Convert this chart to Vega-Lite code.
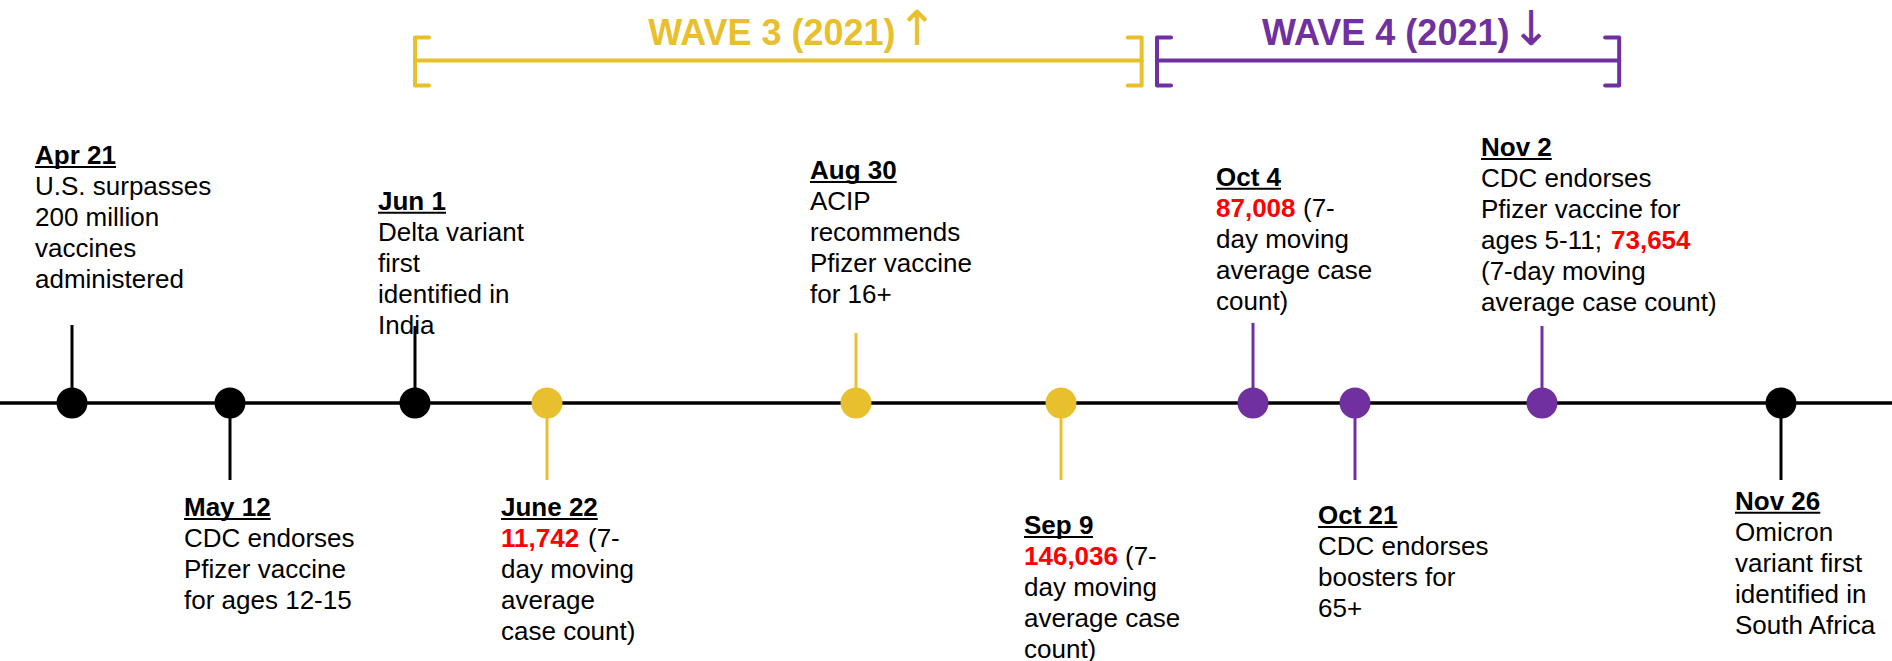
{
  "$schema": "https://vega.github.io/schema/vega-lite/v6.json",
  "width": 1892,
  "height": 661,
  "padding": 0,
  "autosize": {"type": "none"},
  "background": "white",
  "config": {"view": {"stroke": null}, "font": "Liberation Sans"},
  "datasets": {
    "events": [
      {"date": "2021-04-21T00:00Z", "heading": "Apr 21", "group": "other", "level": 8.02, "stem": 2.53, "body": ["U.S. surpasses", "200 million", "vaccines", "administered"]},
      {"date": "2021-05-12T00:00Z", "heading": "May 12", "group": "other", "level": -3.41, "stem": -2.5, "body": ["CDC endorses", "Pfizer vaccine", "for ages 12-15"]},
      {"date": "2021-06-01T00:00Z", "heading": "Jun 1", "group": "other", "level": 6.53, "stem": 2.5, "body": ["Delta variant", "first", "identified in", "India"]},
      {"date": "2021-06-22T00:00Z", "heading": "June 22", "group": "wave3", "level": -3.41, "stem": -2.5, "body": ["", "day moving", "average", "case count)"], "num": "11,742", "suffix": "(7-"},
      {"date": "2021-08-30T00:00Z", "heading": "Aug 30", "group": "wave3", "level": 7.53, "stem": 2.27, "body": ["ACIP", "recommends", "Pfizer vaccine", "for 16+"]},
      {"date": "2021-09-09T00:00Z", "heading": "Sep 9", "group": "wave3", "level": -3.99, "stem": -2.5, "body": ["", "day moving", "average case", "count)"], "num": "146,036", "suffix": "(7-"},
      {"date": "2021-10-04T00:00Z", "heading": "Oct 4", "group": "wave4", "level": 7.31, "stem": 2.6, "body": ["", "day moving", "average case", "count)"], "num": "87,008", "suffix": "(7-"},
      {"date": "2021-10-21T00:00Z", "heading": "Oct 21", "group": "wave4", "level": -3.67, "stem": -2.5, "body": ["CDC endorses", "boosters for", "65+"]},
      {"date": "2021-11-02T00:00Z", "heading": "Nov 2", "group": "wave4", "level": 8.28, "stem": 2.5, "body": ["CDC endorses", "Pfizer vaccine for", "ages 5-11;", "(7-day moving", "average case count)"], "num": "73,654"},
      {"date": "2021-11-26T00:00Z", "heading": "Nov 26", "group": "other", "level": -3.21, "stem": -2.5, "body": ["Omicron", "variant first", "identified in", "South Africa"]}
    ],
    "waves": [
      {"wave": "WAVE 3 (2021)", "arrow": "↑", "group": "wave3", "start": "2021-06-01T00:00Z", "end": "2021-09-19T12:00Z", "title_at": "2021-07-14T14:00Z"},
      {"wave": "WAVE 4 (2021)", "arrow": "↓", "group": "wave4", "start": "2021-09-21T12:00Z", "end": "2021-11-09T18:00Z", "title_at": "2021-10-05T12:00Z"}
    ]
  },
  "layer": [
    {
      "data": {"values": [{}]},
      "mark": {"type": "rule", "color": "#000000", "strokeWidth": 3.5},
      "encoding": {
        "y": {"datum": 0, "type": "quantitative", "axis": null, "scale": {"domain": [-8.377, 13.084], "nice": false, "zero": false}}
      }
    },
    {
      "data": {"name": "events", "format": {"parse": {"date": "date"}}},
      "mark": {"type": "rule", "strokeWidth": 3},
      "encoding": {
        "x": {"field": "date", "type": "quantitative", "axis": null, "scale": {"type": "linear", "nice": false, "zero": false, "domain": [1618963200000, 1620777600000, 1622505600000, 1624320000000, 1630281600000, 1631145600000, 1633305600000, 1634774400000, 1635811200000, 1637884800000], "range": [72, 230, 415, 547, 856, 1061, 1253, 1355, 1542, 1781]}},
        "y": {"field": "stem", "type": "quantitative", "axis": null, "scale": {"domain": [-8.377, 13.084], "nice": false, "zero": false}},
        "y2": {"datum": 0},
        "color": {"field": "group", "type": "nominal", "legend": null, "scale": {"domain": ["other", "wave3", "wave4"], "range": ["#000000", "#E8C02E", "#7030A0"]}}
      }
    },
    {
      "data": {"name": "waves", "format": {"parse": {"start": "date", "end": "date", "title_at": "date"}}},
      "layer": [
        {"mark": {"type": "rule", "strokeWidth": 4, "strokeCap": "round"},
         "encoding": {"x": {"field": "start", "type": "quantitative", "axis": null, "scale": {"type": "linear", "nice": false, "zero": false, "domain": [1618963200000, 1620777600000, 1622505600000, 1624320000000, 1630281600000, 1631145600000, 1633305600000, 1634774400000, 1635811200000, 1637884800000], "range": [72, 230, 415, 547, 856, 1061, 1253, 1355, 1542, 1781]}},
                      "x2": {"field": "end"},
                      "y": {"datum": 11.12, "type": "quantitative", "axis": null, "scale": {"domain": [-8.377, 13.084], "nice": false, "zero": false}}}},
        {"mark": {"type": "tick", "orient": "vertical", "size": 52, "thickness": 4, "opacity": 1, "cornerRadius": 2},
         "encoding": {"x": {"field": "start", "type": "quantitative", "axis": null, "scale": {"type": "linear", "nice": false, "zero": false, "domain": [1618963200000, 1620777600000, 1622505600000, 1624320000000, 1630281600000, 1631145600000, 1633305600000, 1634774400000, 1635811200000, 1637884800000], "range": [72, 230, 415, 547, 856, 1061, 1253, 1355, 1542, 1781]}},
                      "y": {"datum": 11.09, "type": "quantitative", "axis": null, "scale": {"domain": [-8.377, 13.084], "nice": false, "zero": false}}}},
        {"mark": {"type": "tick", "orient": "vertical", "size": 52, "thickness": 4, "opacity": 1, "cornerRadius": 2},
         "encoding": {"x": {"field": "end", "type": "quantitative", "axis": null, "scale": {"type": "linear", "nice": false, "zero": false, "domain": [1618963200000, 1620777600000, 1622505600000, 1624320000000, 1630281600000, 1631145600000, 1633305600000, 1634774400000, 1635811200000, 1637884800000], "range": [72, 230, 415, 547, 856, 1061, 1253, 1355, 1542, 1781]}},
                      "y": {"datum": 11.09, "type": "quantitative", "axis": null, "scale": {"domain": [-8.377, 13.084], "nice": false, "zero": false}}}},
        {"mark": {"type": "tick", "orient": "horizontal", "size": 17, "thickness": 4, "opacity": 1, "xOffset": 7.5, "cornerRadius": 2},
         "encoding": {"x": {"field": "start", "type": "quantitative", "axis": null, "scale": {"type": "linear", "nice": false, "zero": false, "domain": [1618963200000, 1620777600000, 1622505600000, 1624320000000, 1630281600000, 1631145600000, 1633305600000, 1634774400000, 1635811200000, 1637884800000], "range": [72, 230, 415, 547, 856, 1061, 1253, 1355, 1542, 1781]}},
                      "y": {"datum": 11.87, "type": "quantitative", "axis": null, "scale": {"domain": [-8.377, 13.084], "nice": false, "zero": false}}}},
        {"mark": {"type": "tick", "orient": "horizontal", "size": 17, "thickness": 4, "opacity": 1, "xOffset": 7.5, "cornerRadius": 2},
         "encoding": {"x": {"field": "start", "type": "quantitative", "axis": null, "scale": {"type": "linear", "nice": false, "zero": false, "domain": [1618963200000, 1620777600000, 1622505600000, 1624320000000, 1630281600000, 1631145600000, 1633305600000, 1634774400000, 1635811200000, 1637884800000], "range": [72, 230, 415, 547, 856, 1061, 1253, 1355, 1542, 1781]}},
                      "y": {"datum": 10.31, "type": "quantitative", "axis": null, "scale": {"domain": [-8.377, 13.084], "nice": false, "zero": false}}}},
        {"mark": {"type": "tick", "orient": "horizontal", "size": 17, "thickness": 4, "opacity": 1, "xOffset": -7.5, "cornerRadius": 2},
         "encoding": {"x": {"field": "end", "type": "quantitative", "axis": null, "scale": {"type": "linear", "nice": false, "zero": false, "domain": [1618963200000, 1620777600000, 1622505600000, 1624320000000, 1630281600000, 1631145600000, 1633305600000, 1634774400000, 1635811200000, 1637884800000], "range": [72, 230, 415, 547, 856, 1061, 1253, 1355, 1542, 1781]}},
                      "y": {"datum": 11.87, "type": "quantitative", "axis": null, "scale": {"domain": [-8.377, 13.084], "nice": false, "zero": false}}}},
        {"mark": {"type": "tick", "orient": "horizontal", "size": 17, "thickness": 4, "opacity": 1, "xOffset": -7.5, "cornerRadius": 2},
         "encoding": {"x": {"field": "end", "type": "quantitative", "axis": null, "scale": {"type": "linear", "nice": false, "zero": false, "domain": [1618963200000, 1620777600000, 1622505600000, 1624320000000, 1630281600000, 1631145600000, 1633305600000, 1634774400000, 1635811200000, 1637884800000], "range": [72, 230, 415, 547, 856, 1061, 1253, 1355, 1542, 1781]}},
                      "y": {"datum": 10.31, "type": "quantitative", "axis": null, "scale": {"domain": [-8.377, 13.084], "nice": false, "zero": false}}}},
        {"mark": {"type": "text", "fontSize": 36, "fontWeight": "bold", "align": "left", "baseline": "middle"},
         "encoding": {"x": {"field": "title_at", "type": "quantitative", "axis": null, "scale": {"type": "linear", "nice": false, "zero": false, "domain": [1618963200000, 1620777600000, 1622505600000, 1624320000000, 1630281600000, 1631145600000, 1633305600000, 1634774400000, 1635811200000, 1637884800000], "range": [72, 230, 415, 547, 856, 1061, 1253, 1355, 1542, 1781]}},
                      "y": {"datum": 11.98, "type": "quantitative", "axis": null, "scale": {"domain": [-8.377, 13.084], "nice": false, "zero": false}},
                      "text": {"field": "wave", "type": "nominal"}}},
        {"mark": {"type": "text", "fontSize": 48, "font": "DejaVu Sans", "align": "center", "baseline": "middle", "dx": 269},
         "encoding": {"x": {"field": "title_at", "type": "quantitative", "axis": null, "scale": {"type": "linear", "nice": false, "zero": false, "domain": [1618963200000, 1620777600000, 1622505600000, 1624320000000, 1630281600000, 1631145600000, 1633305600000, 1634774400000, 1635811200000, 1637884800000], "range": [72, 230, 415, 547, 856, 1061, 1253, 1355, 1542, 1781]}},
                      "y": {"datum": 12.08, "type": "quantitative", "axis": null, "scale": {"domain": [-8.377, 13.084], "nice": false, "zero": false}},
                      "text": {"field": "arrow", "type": "nominal"}}}
      ],
      "encoding": {
        "color": {"field": "group", "type": "nominal", "legend": null}
      }
    },
    {
      "data": {"name": "events", "format": {"parse": {"date": "date"}}},
      "mark": {"type": "point", "filled": true, "size": 960, "opacity": 1, "strokeWidth": 0},
      "encoding": {
        "x": {"field": "date", "type": "quantitative", "axis": null, "scale": {"type": "linear", "nice": false, "zero": false, "domain": [1618963200000, 1620777600000, 1622505600000, 1624320000000, 1630281600000, 1631145600000, 1633305600000, 1634774400000, 1635811200000, 1637884800000], "range": [72, 230, 415, 547, 856, 1061, 1253, 1355, 1542, 1781]}},
        "y": {"datum": 0, "type": "quantitative", "axis": null, "scale": {"domain": [-8.377, 13.084], "nice": false, "zero": false}},
        "color": {"field": "group", "type": "nominal", "legend": null}
      }
    },
    {
      "data": {"name": "events", "format": {"parse": {"date": "date"}}},
      "layer": [
        {"transform": [{"filter": {"field": "heading", "oneOf": ["Apr 21", "Jun 1", "Sep 9", "Oct 4", "Oct 21"]}}],
         "layer": [
           {"mark": {"type": "text", "fontSize": 26, "fontWeight": "bold", "align": "left", "baseline": "middle", "dx": -37, "color": "#000000"},
            "encoding": {"text": {"field": "heading", "type": "nominal"}}},
           {"mark": {"type": "text", "fontSize": 26, "align": "left", "baseline": "alphabetic", "dx": -37, "dy": 39, "lineHeight": 31, "color": "#000000"},
            "encoding": {"text": {"field": "body", "type": "nominal"}}}
         ]},
        {"transform": [{"filter": {"field": "heading", "oneOf": ["May 12", "June 22", "Aug 30", "Nov 26"]}}],
         "layer": [
           {"mark": {"type": "text", "fontSize": 26, "fontWeight": "bold", "align": "left", "baseline": "middle", "dx": -46, "color": "#000000"},
            "encoding": {"text": {"field": "heading", "type": "nominal"}}},
           {"mark": {"type": "text", "fontSize": 26, "align": "left", "baseline": "alphabetic", "dx": -46, "dy": 39, "lineHeight": 31, "color": "#000000"},
            "encoding": {"text": {"field": "body", "type": "nominal"}}}
         ]},
        {"transform": [{"filter": {"field": "heading", "equal": "Nov 2"}}],
         "layer": [
           {"mark": {"type": "text", "fontSize": 26, "fontWeight": "bold", "align": "left", "baseline": "middle", "dx": -61, "color": "#000000"},
            "encoding": {"text": {"field": "heading", "type": "nominal"}}},
           {"mark": {"type": "text", "fontSize": 26, "align": "left", "baseline": "alphabetic", "dx": -61, "dy": 39, "lineHeight": 31, "color": "#000000"},
            "encoding": {"text": {"field": "body", "type": "nominal"}}},
           {"mark": {"type": "text", "fontSize": 26, "fontWeight": "bold", "align": "left", "baseline": "middle", "dx": 69, "dy": 93, "color": "#FF0000"},
            "encoding": {"text": {"field": "num", "type": "nominal"}}}
         ]},
        {"transform": [{"filter": {"field": "heading", "equal": "June 22"}}],
         "layer": [
           {"mark": {"type": "text", "fontSize": 26, "fontWeight": "bold", "align": "left", "baseline": "middle", "dx": -46, "dy": 31, "color": "#FF0000"},
            "encoding": {"text": {"field": "num", "type": "nominal"}}},
           {"mark": {"type": "text", "fontSize": 26, "align": "left", "baseline": "middle", "dx": 41, "dy": 31, "color": "#000000"},
            "encoding": {"text": {"field": "suffix", "type": "nominal"}}}
         ]},
        {"transform": [{"filter": {"field": "heading", "equal": "Oct 4"}}],
         "layer": [
           {"mark": {"type": "text", "fontSize": 26, "fontWeight": "bold", "align": "left", "baseline": "middle", "dx": -37, "dy": 31, "color": "#FF0000"},
            "encoding": {"text": {"field": "num", "type": "nominal"}}},
           {"mark": {"type": "text", "fontSize": 26, "align": "left", "baseline": "middle", "dx": 50, "dy": 31, "color": "#000000"},
            "encoding": {"text": {"field": "suffix", "type": "nominal"}}}
         ]},
        {"transform": [{"filter": {"field": "heading", "equal": "Sep 9"}}],
         "layer": [
           {"mark": {"type": "text", "fontSize": 26, "fontWeight": "bold", "align": "left", "baseline": "middle", "dx": -37, "dy": 31, "color": "#FF0000"},
            "encoding": {"text": {"field": "num", "type": "nominal"}}},
           {"mark": {"type": "text", "fontSize": 26, "align": "left", "baseline": "middle", "dx": 64, "dy": 31, "color": "#000000"},
            "encoding": {"text": {"field": "suffix", "type": "nominal"}}}
         ]},
        {"transform": [{"filter": {"field": "heading", "equal": "Apr 21"}}], "mark": {"type": "rule", "color": "#000000", "strokeWidth": 2, "yOffset": 11, "xOffset": -37, "x2Offset": 44}, "encoding": {"x2": {"field": "date"}}},
        {"transform": [{"filter": {"field": "heading", "equal": "Jun 1"}}], "mark": {"type": "rule", "color": "#000000", "strokeWidth": 2, "yOffset": 11, "xOffset": -37, "x2Offset": 31}, "encoding": {"x2": {"field": "date"}}},
        {"transform": [{"filter": {"field": "heading", "equal": "Sep 9"}}], "mark": {"type": "rule", "color": "#000000", "strokeWidth": 2, "yOffset": 11, "xOffset": -37, "x2Offset": 32}, "encoding": {"x2": {"field": "date"}}},
        {"transform": [{"filter": {"field": "heading", "equal": "Oct 4"}}], "mark": {"type": "rule", "color": "#000000", "strokeWidth": 2, "yOffset": 11, "xOffset": -37, "x2Offset": 28}, "encoding": {"x2": {"field": "date"}}},
        {"transform": [{"filter": {"field": "heading", "equal": "Oct 21"}}], "mark": {"type": "rule", "color": "#000000", "strokeWidth": 2, "yOffset": 11, "xOffset": -37, "x2Offset": 42.5}, "encoding": {"x2": {"field": "date"}}},
        {"transform": [{"filter": {"field": "heading", "equal": "May 12"}}], "mark": {"type": "rule", "color": "#000000", "strokeWidth": 2, "yOffset": 11, "xOffset": -46, "x2Offset": 40.7}, "encoding": {"x2": {"field": "date"}}},
        {"transform": [{"filter": {"field": "heading", "equal": "June 22"}}], "mark": {"type": "rule", "color": "#000000", "strokeWidth": 2, "yOffset": 11, "xOffset": -46, "x2Offset": 50.8}, "encoding": {"x2": {"field": "date"}}},
        {"transform": [{"filter": {"field": "heading", "equal": "Aug 30"}}], "mark": {"type": "rule", "color": "#000000", "strokeWidth": 2, "yOffset": 11, "xOffset": -46, "x2Offset": 40.7}, "encoding": {"x2": {"field": "date"}}},
        {"transform": [{"filter": {"field": "heading", "equal": "Nov 26"}}], "mark": {"type": "rule", "color": "#000000", "strokeWidth": 2, "yOffset": 11, "xOffset": -46, "x2Offset": 39.3}, "encoding": {"x2": {"field": "date"}}},
        {"transform": [{"filter": {"field": "heading", "equal": "Nov 2"}}], "mark": {"type": "rule", "color": "#000000", "strokeWidth": 2, "yOffset": 11, "xOffset": -61, "x2Offset": 9.8}, "encoding": {"x2": {"field": "date"}}}
      ],
      "encoding": {
        "x": {"field": "date", "type": "quantitative", "axis": null, "scale": {"type": "linear", "nice": false, "zero": false, "domain": [1618963200000, 1620777600000, 1622505600000, 1624320000000, 1630281600000, 1631145600000, 1633305600000, 1634774400000, 1635811200000, 1637884800000], "range": [72, 230, 415, 547, 856, 1061, 1253, 1355, 1542, 1781]}},
        "y": {"field": "level", "type": "quantitative", "axis": null, "scale": {"domain": [-8.377, 13.084], "nice": false, "zero": false}}
      }
    }
  ]
}
